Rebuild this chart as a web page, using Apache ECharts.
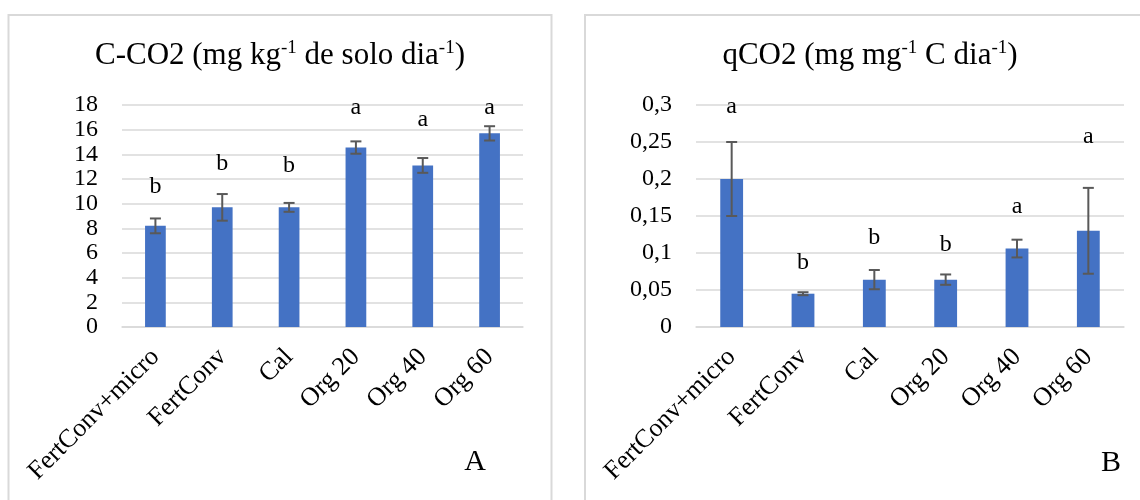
<!DOCTYPE html>
<html><head><meta charset="utf-8">
<script src="https://cdn.jsdelivr.net/npm/echarts@6/dist/echarts.min.js"></script>
<style>html,body{margin:0;padding:0;background:#fff}#c{width:1140px;height:500px}</style>
</head><body><div id="c"></div><script>
// ---- data ----
const categories = ['FertConv+micro', 'FertConv', 'Cal', 'Org 20', 'Org 40', 'Org 60'];
const ccoMean = [8.2, 9.7, 9.7, 14.55, 13.1, 15.7];
const ccoErr = [0.6, 1.08, 0.36, 0.5, 0.6, 0.58];
const ccoLetters = ['b', 'b', 'b', 'a', 'a', 'a'];
const ccoLetterLevel = [11.4, 13.2, 13.05, 17.75, 16.8, 17.75];
const qcoMean = [0.2, 0.045, 0.064, 0.064, 0.106, 0.13];
const qcoErr = [0.05, 0.002, 0.013, 0.007, 0.012, 0.058];
const qcoLetters = ['a', 'b', 'b', 'b', 'a', 'a'];
const qcoLetterLevel = [0.298, 0.087, 0.121, 0.111, 0.163, 0.257];
const ccoAxis = { min: 0, max: 18, interval: 2 };
const qcoAxis = { min: 0, max: 0.3, interval: 0.05 };
const panelLabels = ['A', 'B'];

// ---- helpers ----
const FONT = '"Liberation Serif", "Times New Roman", serif';
const GRID = '#d9d9d9';
function errRender(params, api) {
  const x = api.value(0), lo = api.value(1), hi = api.value(2);
  const pLo = api.coord([x, lo]), pHi = api.coord([x, hi]);
  const hw = 5.5;
  const style = { stroke: '#595959', lineWidth: 2 };
  return { type: 'group', children: [
    { type: 'line', shape: { x1: pLo[0], y1: pLo[1], x2: pHi[0], y2: pHi[1] }, style: style },
    { type: 'line', shape: { x1: pLo[0] - hw, y1: pLo[1], x2: pLo[0] + hw, y2: pLo[1] }, style: style },
    { type: 'line', shape: { x1: pHi[0] - hw, y1: pHi[1], x2: pHi[0] + hw, y2: pHi[1] }, style: style }
  ]};
}
function letterRender(letters) {
  return function (params, api) {
    const p = api.coord([api.value(0), api.value(1)]);
    return { type: 'text', x: p[0], y: p[1], style: {
      text: letters[params.dataIndex], fontSize: 24, fontFamily: FONT, fill: '#000',
      align: 'center', verticalAlign: 'middle' } };
  };
}
function xAxisFor(gi) {
  return { type: 'category', gridIndex: gi, data: categories,
    axisLine: { lineStyle: { color: GRID, width: 1.5 } }, axisTick: { show: false },
    axisLabel: { rotate: 45, margin: 26, color: '#000', fontSize: 26, fontFamily: FONT, interval: 0 } };
}
function yAxisFor(gi, ax, fmt) {
  return { type: 'value', gridIndex: gi, min: ax.min, max: ax.max, interval: ax.interval,
    axisLine: { show: false }, axisTick: { show: false },
    splitLine: { lineStyle: { color: GRID, width: 1.5 } },
    axisLabel: { margin: 24, color: '#000', fontSize: 24, fontFamily: FONT, formatter: fmt } };
}
const commaFmt = v => String(+(+v).toFixed(2)).replace('.', ',');
const titleRich = {
  n: { fontSize: 31, fontFamily: FONT, fill: '#000', lineHeight: 34 },
  s: { fontSize: 19, fontFamily: FONT, fill: '#000', lineHeight: 34, verticalAlign: 'top' }
};

const chart = echarts.init(document.getElementById('c'), null, { renderer: 'canvas' });
chart.setOption({
  animation: false,
  backgroundColor: '#fff',
  grid: [
    { left: 122, right: 617, top: 105, bottom: 173 },
    { left: 696, right: 16, top: 105, bottom: 173 }
  ],
  xAxis: [xAxisFor(0), xAxisFor(1)],
  yAxis: [yAxisFor(0, ccoAxis), yAxisFor(1, qcoAxis, commaFmt)],
  series: [
    { type: 'bar', xAxisIndex: 0, yAxisIndex: 0, data: ccoMean, barWidth: '31%',
      itemStyle: { color: '#4472C4' } },
    { type: 'custom', xAxisIndex: 0, yAxisIndex: 0, renderItem: errRender, z: 5,
      data: ccoMean.map((m, i) => [i, m - ccoErr[i], m + ccoErr[i]]) },
    { type: 'custom', xAxisIndex: 0, yAxisIndex: 0, renderItem: letterRender(ccoLetters), z: 6,
      data: ccoLetterLevel.map((v, i) => [i, v]) },
    { type: 'bar', xAxisIndex: 1, yAxisIndex: 1, data: qcoMean, barWidth: '32%',
      itemStyle: { color: '#4472C4' } },
    { type: 'custom', xAxisIndex: 1, yAxisIndex: 1, renderItem: errRender, z: 5,
      data: qcoMean.map((m, i) => [i, m - qcoErr[i], m + qcoErr[i]]) },
    { type: 'custom', xAxisIndex: 1, yAxisIndex: 1, renderItem: letterRender(qcoLetters), z: 6,
      data: qcoLetterLevel.map((v, i) => [i, v]) }
  ],
  graphic: [
    { type: 'rect', shape: { x: 8.5, y: 15, width: 543, height: 520 }, silent: true, z: -1,
      style: { fill: 'none', stroke: GRID, lineWidth: 2 } },
    { type: 'rect', shape: { x: 585, y: 15, width: 620, height: 520 }, silent: true, z: -1,
      style: { fill: 'none', stroke: GRID, lineWidth: 2 } },
    { type: 'text', x: 280, y: 56, style: {
      text: '{n|C-CO2 (mg kg}{s|-1}{n| de solo dia}{s|-1}{n|)}', rich: titleRich,
      align: 'center', verticalAlign: 'middle' } },
    { type: 'text', x: 870, y: 56, style: {
      text: '{n|qCO2 (mg mg}{s|-1}{n| C dia}{s|-1}{n|)}', rich: titleRich,
      align: 'center', verticalAlign: 'middle' } },
    { type: 'text', x: 475, y: 462, style: { text: panelLabels[0], fontSize: 30, fontFamily: FONT,
      fill: '#000', align: 'center', verticalAlign: 'middle' } },
    { type: 'text', x: 1111, y: 463, style: { text: panelLabels[1], fontSize: 30, fontFamily: FONT,
      fill: '#000', align: 'center', verticalAlign: 'middle' } }
  ]
});
</script></body></html>
